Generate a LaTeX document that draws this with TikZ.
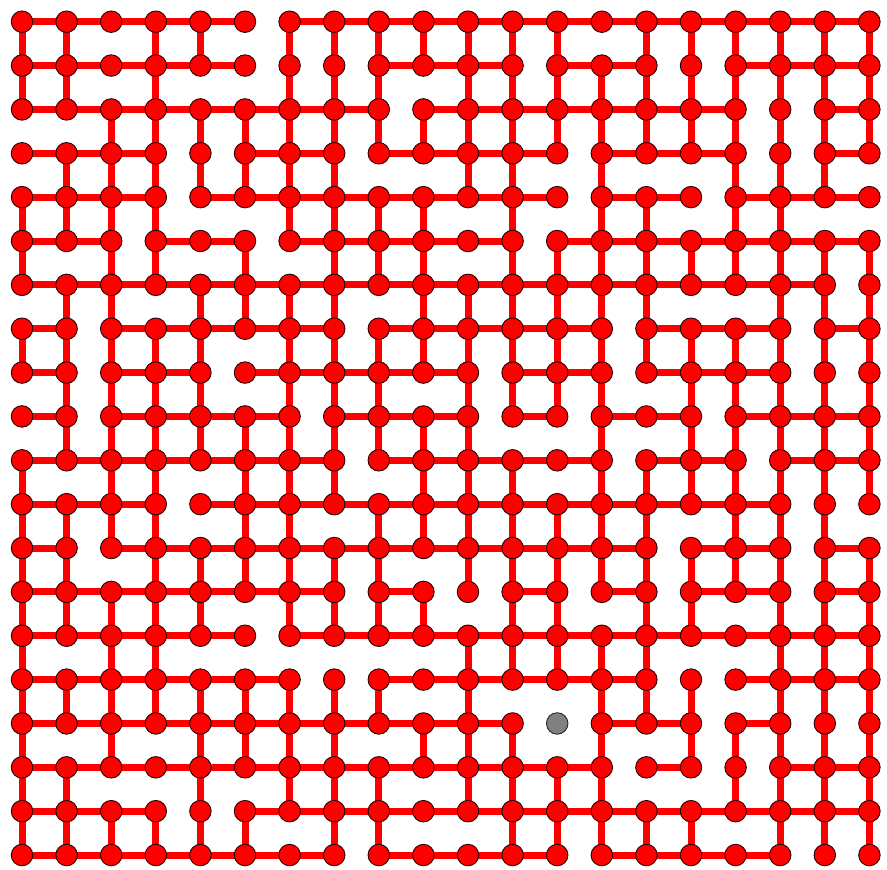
\documentclass[tikz,border=0pt]{standalone}
\usetikzlibrary{backgrounds}
\begin{document}
\begin{tikzpicture}[x=1pt,y=-1pt,
  vtx/.style={circle,draw=black!85!red,line width=0.9pt,fill=red,minimum size=21.5pt,inner sep=0pt},
  deadvtx/.style={vtx,fill=black!50,draw=black!85},
  link/.style={draw=red,line width=7pt}]
\useasboundingbox (0,0) rectangle (887,870);
\foreach \r in {0,...,19}{
  \foreach \c in {0,...,19}{
    \def\sty{vtx}
    \ifnum\r=16 \ifnum\c=12 \def\sty{deadvtx}\fi\fi
    \node[style=\sty] (n-\r-\c) at ({22+44.6*\c},{21.7+43.86*\r}) {};
  }
}
\begin{pgfonlayer}{background}
% horizontal links: row r, between column c and c+1
\foreach \row [count=\r from 0] in {
{1,1,1,1,1,0,1,1,1,1,1,1,1,1,1,1,1,1,1},
{1,1,1,1,1,0,0,0,1,1,1,0,1,1,0,0,1,1,1},
{1,1,1,1,1,1,1,1,0,1,1,1,1,1,1,1,0,0,1},
{1,1,1,0,0,1,1,0,1,1,1,1,0,1,1,1,0,0,1},
{1,1,1,0,1,1,1,1,1,1,1,1,0,1,1,0,1,1,1},
{1,1,0,1,1,0,1,1,1,1,1,0,1,1,1,1,1,1,1},
{1,1,1,1,1,1,1,1,1,1,1,1,1,1,1,1,1,1,0},
{1,0,1,1,1,1,1,0,1,1,1,1,1,0,1,1,1,0,1},
{1,0,1,1,0,1,1,1,1,1,0,1,1,0,1,1,1,0,0},
{1,0,1,1,1,1,0,1,1,1,0,1,0,1,1,0,1,1,1},
{1,1,1,1,1,1,1,0,1,1,1,1,1,0,1,1,0,1,1},
{1,1,1,0,1,1,1,1,1,1,1,1,1,1,1,1,1,0,0},
{1,0,1,1,1,1,1,1,1,1,1,1,1,1,0,1,1,0,1},
{1,1,1,1,1,1,1,0,1,0,0,1,0,1,0,1,1,0,1},
{1,1,1,1,1,0,1,1,1,1,1,1,1,1,1,1,1,1,1},
{1,1,1,1,1,1,0,0,1,1,1,1,1,1,0,0,1,1,1},
{1,1,1,1,1,1,1,1,1,1,1,0,0,1,1,0,1,0,0},
{1,1,1,1,1,1,1,1,1,1,1,1,1,0,1,0,0,1,1},
{1,1,1,0,0,1,1,1,1,1,1,1,1,1,1,1,1,1,1},
{1,1,1,1,1,1,1,0,1,1,1,1,0,1,1,1,1,0,0}}{
  \foreach \v [count=\c from 0] in \row {
    \ifnum\v=1
      \pgfmathtruncatemacro\cn{\c+1}
      \draw[link] (n-\r-\c.center) -- (n-\r-\cn.center);
    \fi
  }
}
% vertical links: between row r and r+1, column c
\foreach \row [count=\r from 0] in {
{1,1,0,1,1,0,1,1,1,1,1,1,1,0,1,1,1,1,1,1},
{1,1,0,1,0,0,1,1,1,0,1,1,1,1,1,1,1,1,1,1},
{0,0,1,1,1,1,1,1,1,1,1,1,1,1,1,1,1,1,1,1},
{0,1,1,1,1,1,1,1,0,0,1,1,0,1,0,0,1,1,1,0},
{1,1,1,1,0,0,1,1,1,1,0,1,0,1,1,0,1,1,0,0},
{1,0,1,1,0,1,0,1,1,1,0,1,1,1,1,1,1,1,1,1},
{0,1,1,0,1,1,1,1,0,1,1,1,1,1,1,0,0,1,1,1},
{1,1,1,1,1,0,1,1,1,1,1,1,1,1,1,1,1,1,1,1},
{0,1,1,1,1,0,1,1,1,0,1,1,1,1,0,1,1,1,1,1},
{0,1,1,1,1,1,1,1,1,1,1,0,0,1,0,1,1,1,1,1},
{1,0,1,1,0,1,1,1,0,1,1,1,0,1,1,1,1,1,1,1},
{1,1,1,1,0,1,1,0,1,1,1,1,1,1,1,0,1,1,1,0},
{1,1,0,1,1,1,1,1,1,0,1,1,1,1,1,1,1,1,1,1},
{1,1,1,1,1,0,1,1,1,1,0,1,1,0,1,1,0,1,1,1},
{1,0,1,1,0,0,0,0,0,0,1,1,1,1,1,0,0,1,1,1},
{1,1,1,1,1,1,1,1,1,0,1,0,0,1,1,1,0,1,1,1},
{1,0,1,0,1,1,1,1,0,1,1,1,0,1,0,1,1,1,1,1},
{1,1,0,0,1,0,1,1,1,0,1,1,1,1,0,0,1,1,1,1},
{1,1,1,1,1,1,0,1,1,0,0,1,1,1,1,1,0,1,1,1}}{
  \foreach \v [count=\c from 0] in \row {
    \ifnum\v=1
      \pgfmathtruncatemacro\rn{\r+1}
      \draw[link] (n-\r-\c.center) -- (n-\rn-\c.center);
    \fi
  }
}
\end{pgfonlayer}
\end{tikzpicture}
\end{document}
